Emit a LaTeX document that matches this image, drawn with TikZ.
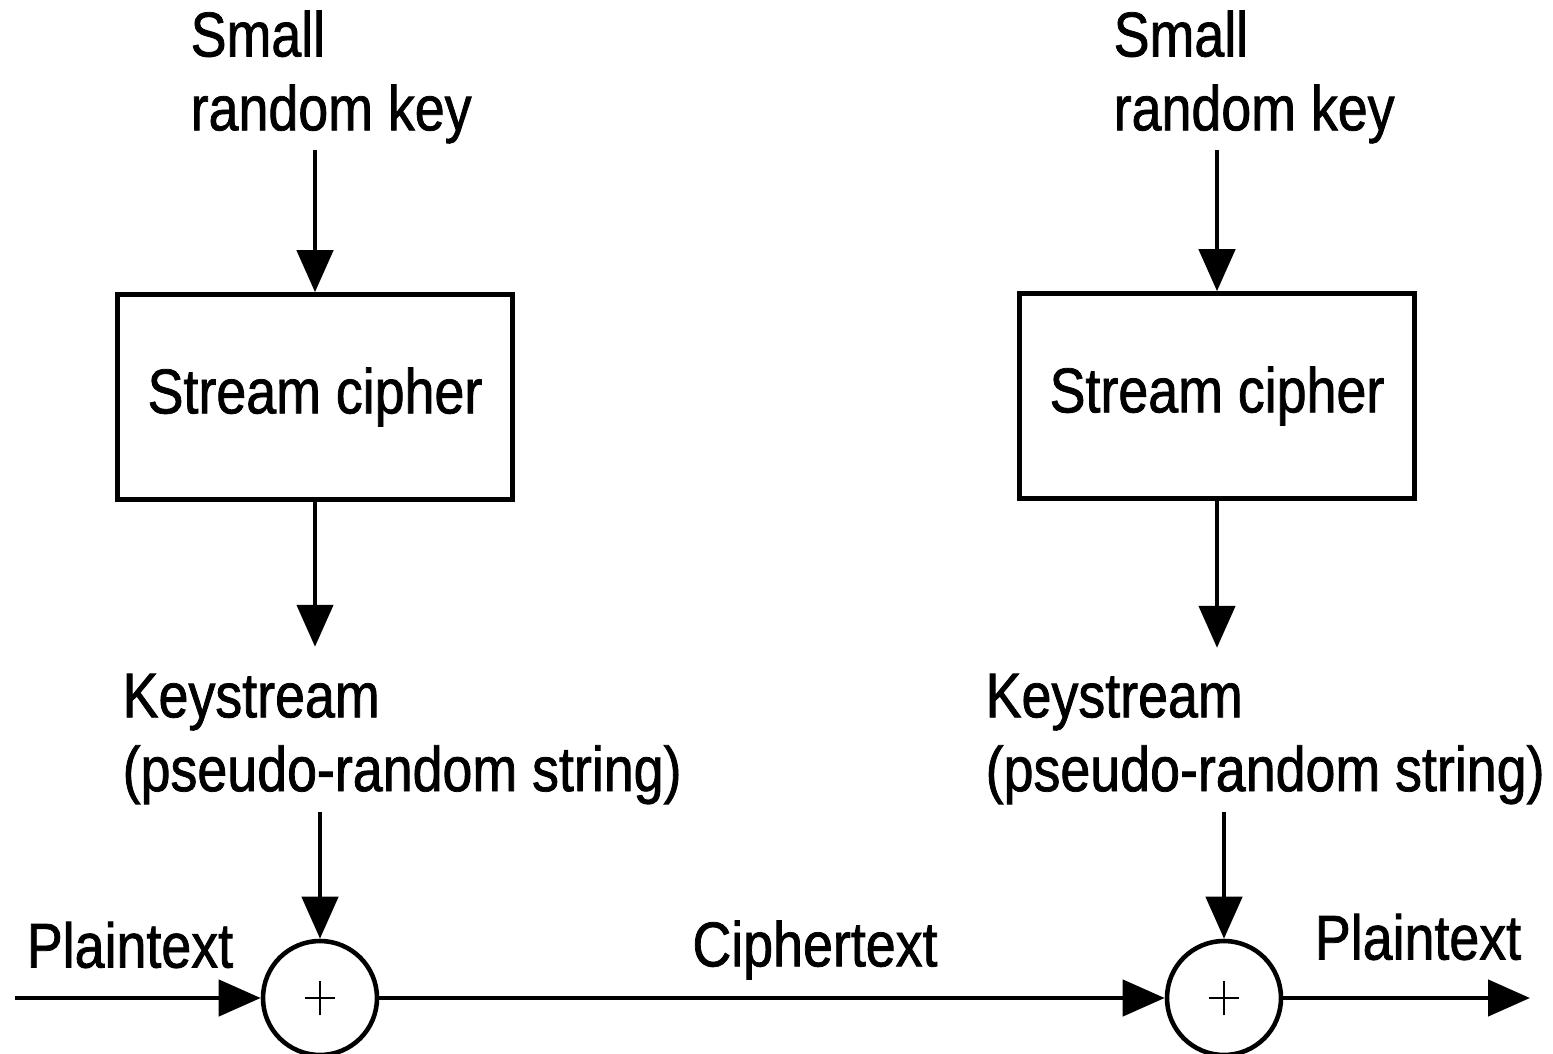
\documentclass[tikz,border=0pt]{standalone}
\usepackage{fontspec}
\setmainfont{Liberation Sans}[FakeStretch=0.85, FakeBold=1.2]
\usepackage{tikz}
\usetikzlibrary{arrows.meta, positioning, calc}

\begin{document}
\begin{tikzpicture}[
            box/.style={rectangle, draw=black, line width=1.3pt, minimum width=3.95cm, minimum height=2.05cm, align=center},
            xorop/.style={circle, draw=black, line width=1.3pt, minimum size=1.14cm, inner sep=0pt},
            lbl/.style={align=left, inner sep=0pt},
            arrow/.style={-{Triangle[length=4.2mm, width=3.6mm]}, line width=1.3pt}
        ]
\useasboundingbox (0,0) rectangle (15.53,10.53);
\fontsize{18}{21}\selectfont

% Sender side
            \node[lbl, anchor=west] (key1) at (1.9,9.76) {Small\\random key};
            \node[box] (cipher1) at (3.15,6.56) {Stream cipher};
            \node[lbl, anchor=west] (ks1) at (1.22,3.14) {Keystream\\(pseudo-random string)};
            \node[xorop] (xor1) at (3.2,0.55) {};

% Receiver side
            \node[lbl, anchor=west] (key2) at (11.13,9.76) {Small\\random key};
            \node[box] (cipher2) at (12.17,6.57) {Stream cipher};
            \node[lbl, anchor=west] (ks2) at (9.85,3.14) {Keystream\\(pseudo-random string)};
            \node[xorop] (xor2) at (12.24,0.55) {};

% Plus signs
            \draw[line width=0.8pt] ($(xor1)+(-0.15,0)$) -- ($(xor1)+(0.15,0)$) ($(xor1)+(0,-0.17)$) -- ($(xor1)+(0,0.17)$);
            \draw[line width=0.8pt] ($(xor2)+(-0.15,0)$) -- ($(xor2)+(0.15,0)$) ($(xor2)+(0,-0.17)$) -- ($(xor2)+(0,0.17)$);

% Ends of the data line
            \coordinate (in) at (0.15,0.55);
            \coordinate (out) at (15.3,0.55);

% Labels on the data line
            \node (ptin) at (1.3,1.08) {Plaintext};
            \node (ct) at (8.15,1.03) {Ciphertext};
            \node (ptout) at (14.18,1.16) {Plaintext};

% Arrows
            \draw[arrow] (cipher1.north |- 0,9.03) -- (cipher1.north);
            \draw[arrow] (cipher1.south) -- ++(0,-1.45);
            \draw[arrow] (xor1.north |- 0,2.41) -- (xor1.north);
            \draw[arrow] (in) -- (xor1.west);
            \draw[arrow] (xor1.east) -- (xor2.west);
            \draw[arrow] (cipher2.north |- 0,9.03) -- (cipher2.north);
            \draw[arrow] (cipher2.south) -- ++(0,-1.47);
            \draw[arrow] (xor2.north |- 0,2.41) -- (xor2.north);
            \draw[arrow] (xor2.east) -- (out);

        \end{tikzpicture}
\end{document}
